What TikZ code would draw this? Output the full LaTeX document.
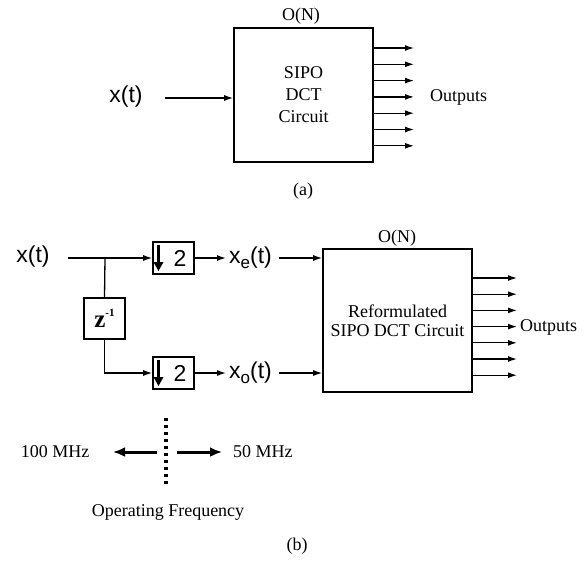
\documentclass[tikz,border=0pt]{standalone}
\usepackage{fontspec}
\setmainfont{Liberation Serif}
\newfontfamily\sigfont{Liberation Sans}
\usetikzlibrary{arrows.meta}
\begin{document}
\begin{tikzpicture}[x=1pt,y=-1pt,
  box/.style={draw, line width=1.6pt, inner sep=0pt},
  conn/.style={line width=1.3pt, -{Latex[length=9pt,width=6pt]}},
  wire/.style={line width=1.3pt},
  lbl/.style={font=\fontsize{18}{21}\selectfont, inner sep=0pt},
  sig/.style={font=\sigfont\fontsize{23}{26}\selectfont, inner sep=0pt},
  bigarr/.style={line width=3pt, -{Latex[length=12pt,width=10pt]}}]
\useasboundingbox (0,0) rectangle (585,560);

% ---------- (a) ----------
\node[box, minimum width=139pt, minimum height=134pt, align=center,
      font=\fontsize{18}{22}\selectfont] (A) at (303.5,95) {SIPO\\DCT\\Circuit};
\node[lbl] (ONa) at (301,16) {O(N)};
\node[sig] (x1) at (126,97) {x(t)};
\coordinate (ain) at (165,98);
\draw[conn] (ain) -- (A.west |- ain);
\foreach \i in {0,...,6}{
  \coordinate (ao\i) at (414,{48+16.3*\i});
  \draw[conn] (A.east |- ao\i) -- (ao\i);
}
\node[lbl, anchor=west] (outA) at (430,97) {Outputs};
\node[lbl] (capA) at (303,191) {(a)};

% ---------- (b) ----------
\node[sig] (x2) at (33,257) {x(t)};
\coordinate (bin) at (68,258);
\coordinate (br) at (105,258);
\node[box, minimum width=41pt, minimum height=32pt, font=\sigfont\fontsize{23}{26}\selectfont] (d1) at (173.5,258) {\hspace{13pt}2};
\node[box, minimum width=41pt, minimum height=32pt, font=\sigfont\fontsize{23}{26}\selectfont] (d2) at (173.5,373) {\hspace{13pt}2};
% down-sampling arrows
\draw[line width=3pt] (158.5,245) -- (158.5,263);
\fill (153.5,262) -- (163.5,262) -- (158.5,271) -- cycle;
\draw[line width=3pt] (158.5,360) -- (158.5,378);
\fill (153.5,377) -- (163.5,377) -- (158.5,386) -- cycle;
\node[box, minimum width=41pt, minimum height=41pt] (z) at (104.5,318.5)
  {{\fontsize{25}{25}\selectfont\bfseries z}\raisebox{11pt}{\fontsize{11}{11}\selectfont\bfseries -1}};
\draw[conn] (bin) -- (d1.west);
\draw[wire] (br) -- (z.north);
\draw[conn] (z.south) |- (d2.west);

\node[sig, anchor=west] (xe) at (229,258) {x\raisebox{-5pt}{\fontsize{17}{17}\selectfont e}(t)};
\node[sig, anchor=west] (xo) at (229,373) {x\raisebox{-5pt}{\fontsize{17}{17}\selectfont o}(t)};
\draw[conn, shorten >=3pt] (d1.east) -- (d1.east -| xe.west);
\draw[conn, shorten >=3pt] (d2.east) -- (d2.east -| xo.west);

\node[box, minimum width=149pt, minimum height=143pt, align=center,
      font=\fontsize{18}{19}\selectfont] (B) at (397.5,320.5) {Reformulated\\SIPO DCT Circuit};
\node[lbl] (ONb) at (397,238) {O(N)};
\draw[conn, shorten <=7pt] (xe.east |- d1.east) -- (B.west |- d1.east);
\draw[conn, shorten <=7pt] (xo.east |- d2.east) -- (B.west |- d2.east);
\foreach \i in {0,...,6}{
  \coordinate (bo\i) at (517,{278+16.2*\i});
  \draw[conn] (B.east |- bo\i) -- (bo\i);
}
\node[lbl, anchor=west] (outB) at (520,327) {Outputs};

% ---------- frequency ----------
\node[lbl] (f100) at (55,452) {100 MHz};
\node[lbl, anchor=west] (f50) at (233,452) {50 MHz};
\coordinate (dtop) at (166,418);
\coordinate (dbot) at (166,486);
\draw[line width=3.4pt, dash pattern=on 3.4pt off 3.6pt] (dtop) -- (dbot);
\coordinate (l0) at (157,452);
\coordinate (r0) at (177,452);
\draw[bigarr] (l0) -- (113,452);
\draw[bigarr] (r0) -- (222,452);
\node[lbl] (opf) at (168,512) {Operating Frequency};
\node[lbl] (capB) at (297,546) {(b)};
\end{tikzpicture}
\end{document}
